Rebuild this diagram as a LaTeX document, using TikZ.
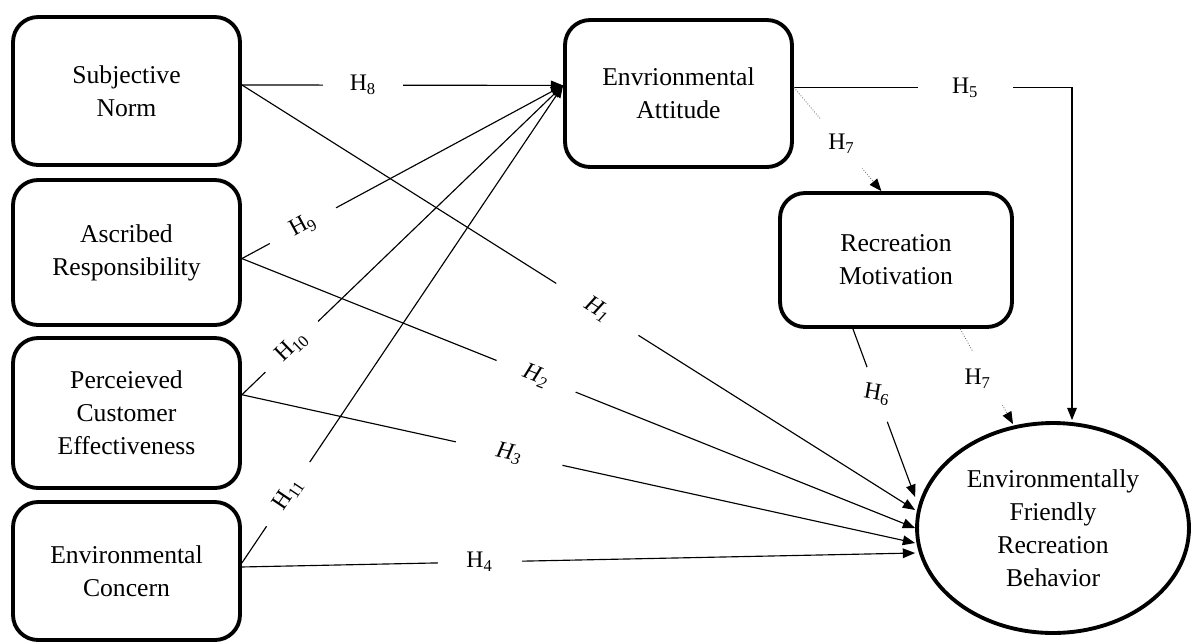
\documentclass[tikz,border=0pt]{standalone}
\usepackage{fontspec}
\setmainfont{Liberation Serif}
\usepackage{tikz}
\usetikzlibrary{arrows.meta, shapes.geometric, calc}

\newcommand{\hyp}[1]{H\textsubscript{#1}}

\begin{document}
\begin{tikzpicture}[
    x=0.02cm,y=-0.02cm,
    >={Triangle[length=7pt,width=5.5pt]},
    font=\fontsize{14.6}{18.8}\selectfont,
    construct/.style={draw=black,line width=2.2pt,rounded corners=0.5cm,
        minimum width=4.54cm,align=center,inner sep=2pt},
    outcome/.style={ellipse,draw=black,line width=2.2pt,minimum width=5.44cm,
        minimum height=4.2cm,align=center,inner sep=1pt},
    link/.style={draw=black,line width=0.65pt},
    indirect/.style={draw=black!55,line width=0.5pt,densely dotted,
        -{Triangle[length=7pt,width=5.5pt,black]}},
    hgap/.style={fill=white,inner sep=0pt,minimum height=0.4cm,
        font=\fontsize{13.5}{15}\selectfont},
    hyptext/.style={inner sep=0pt,font=\fontsize{13.5}{15}\selectfont}
]
\useasboundingbox (0,0) rectangle (1192,643);

% Constructs of the model.
\node[construct,minimum height=2.96cm] (sn) at (126.5,91) {Subjective\\Norm};
\node[construct,minimum height=2.90cm] (ar) at (126.5,252.5) {Ascribed\\Responsibility};
\node[construct,minimum height=3.00cm] (pce) at (126.5,413) {Perceieved\\Customer\\Effectiveness};
\node[construct,minimum height=2.76cm] (ec) at (126.5,571) {Environmental\\Concern};
\node[construct,minimum height=2.94cm] (ea) at (678.5,93.5) {Envrionmental\\Attitude};
\node[construct,minimum width=4.64cm,minimum height=2.68cm] (rm) at (896,260) {Recreation\\Motivation};
\node[outcome] (efrb) at (1053,528) {Environmentally\\Friendly\\Recreation\\Behavior};

% Arrow ends on the outcome.
\coordinate (in1) at ($(efrb.west)+(0,-18)$);
\coordinate (in2) at (efrb.west);
\coordinate (in3) at ($(efrb.west)+(0,15)$);
\coordinate (in4) at ($(efrb.west)+(0,25)$);
\coordinate (in6) at ($(efrb.west)+(0,-31)$);
\coordinate (in5) at ($(efrb.north)+(19,-1)$);
\coordinate (in7) at ($(efrb.north)+(-40,3)$);

% Paths into the attitude.
\draw[link,->] (sn.3) -- node[hgap,minimum width=1.62cm,pos=0.377] {\hyp{8}} (ea.176);
\draw[link,->] (ar.-3) -- node[hgap,sloped,minimum width=1.5cm,pos=0.19] {\hyp{9}} (ea.176);
\draw[link,->] (pce.9) -- node[hgap,sloped,minimum width=1.46cm,pos=0.155] {\hyp{10}} (ea.176);
\draw[link,->] (ec.4) -- node[hgap,sloped,minimum width=1.54cm,pos=0.144] {\hyp{11}} (ea.176);

% Direct paths into the behavior.
\draw[link,->] (sn.3) -- node[hgap,sloped,minimum width=1.94cm,pos=0.528] {\textit{\hyp{1}}} (in1);
\draw[link,->] (ar.-3) -- node[hgap,sloped,minimum width=1.7cm,pos=0.437] {\textit{\hyp{2}}} (in2);
\draw[link,->] (pce.9) -- node[hgap,sloped,minimum width=2.18cm,pos=0.397] {\textit{\hyp{3}}} (in3);
\draw[link,->] (ec.2) -- node[hgap,minimum width=1.68cm,pos=0.353] {\hyp{4}} (in4);
\draw[link,->] (ea.3) -| node[hgap,minimum width=1.9cm,pos=0.308] {\hyp{5}} (in5);

% Mediation through the motivation.
\draw[indirect] (ea.3) -- node[hgap,sloped,minimum width=1.28cm,pos=0.544] (g7a) {} (rm.102);
\node[hyptext] at (g7a) {\hyp{7}};
\draw[link,->] (rm.-122) -- node[hgap,sloped,minimum width=1.16cm,pos=0.39] (g6) {} (in6);
\node[hyptext,rotate=-10] at (g6) {\hyp{6}};
\draw[indirect] (rm.-47) -- node[hgap,sloped,minimum width=1.22cm,pos=0.52] (g7b) {} (in7);
\node[hyptext] at ([xshift=-0.2cm]g7b) {\hyp{7}};
\end{tikzpicture}
\end{document}
